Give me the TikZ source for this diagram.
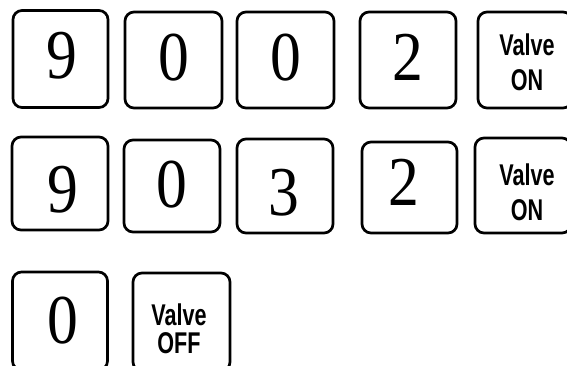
\documentclass[tikz,border=0pt]{standalone}
\usepackage{fontspec}
\setmainfont{Liberation Serif}
\newfontfamily\digitfont[FakeStretch=0.88]{Liberation Serif}
\newfontfamily\valvefont[FakeStretch=0.72]{Liberation Sans Bold}
\begin{document}
\begin{tikzpicture}[x=1pt,y=-1pt,
  key/.style={draw, line width=2.7pt, rounded corners=9pt, inner sep=0pt},
  dig/.style={anchor=base, inner sep=0pt, font=\digitfont\fontsize{70}{70}\selectfont},
  vtxt/.style={anchor=base, inner sep=0pt, align=center, font=\valvefont\fontsize{30}{35}\selectfont}]
\useasboundingbox (0,0) rectangle (567,365);
\clip (0,0) rectangle (567,365);
% row 1
\node[key] (k11) at (60.5,59) [minimum width=95pt, minimum height=97pt] {};
\node[key] (k12) at (173.5,60) [minimum width=97pt, minimum height=96pt] {};
\node[key] (k13) at (285.5,60) [minimum width=97pt, minimum height=96pt] {};
\node[key] (k14) at (408,60) [minimum width=96pt, minimum height=96pt] {};
\node[key] (k15) at (525,60) [minimum width=94pt, minimum height=96pt] {};
\node[dig] (t11) at (62,78) {9};
\node[dig] (t12) at (173.5,80) {0};
\node[dig] (t13) at (285.5,80) {0};
\node[dig] (t14) at (408,80) {2};
\node[vtxt] (t15) at (527,90) {Valve\\ON};
% row 2
\node[key] (k21) at (60,183.5) [minimum width=96pt, minimum height=93pt] {};
\node[key] (k22) at (172,186) [minimum width=96pt, minimum height=92pt] {};
\node[key] (k23) at (285,186) [minimum width=96pt, minimum height=94pt] {};
\node[key] (k24) at (409.5,187.5) [minimum width=95pt, minimum height=91pt] {};
\node[key] (k25) at (523,185.5) [minimum width=96pt, minimum height=95pt] {};
\node[dig] (t21) at (62.5,212) {9};
\node[dig] (t22) at (172,207) {0};
\node[dig] (t23) at (284,215) {3};
\node[dig] (t24) at (404,205) {2};
\node[vtxt] (t25) at (527,220) {Valve\\ON};
% row 3
\node[key] (k31) at (60,321) [minimum width=95pt, minimum height=98pt] {};
\node[key] (k32) at (181.5,322) [minimum width=97pt, minimum height=98pt] {};
\node[dig] (t31) at (63,343) {0};
\node[vtxt] (t32) at (179,353) {Valve\\[-7pt]OFF};
\end{tikzpicture}
\end{document}
